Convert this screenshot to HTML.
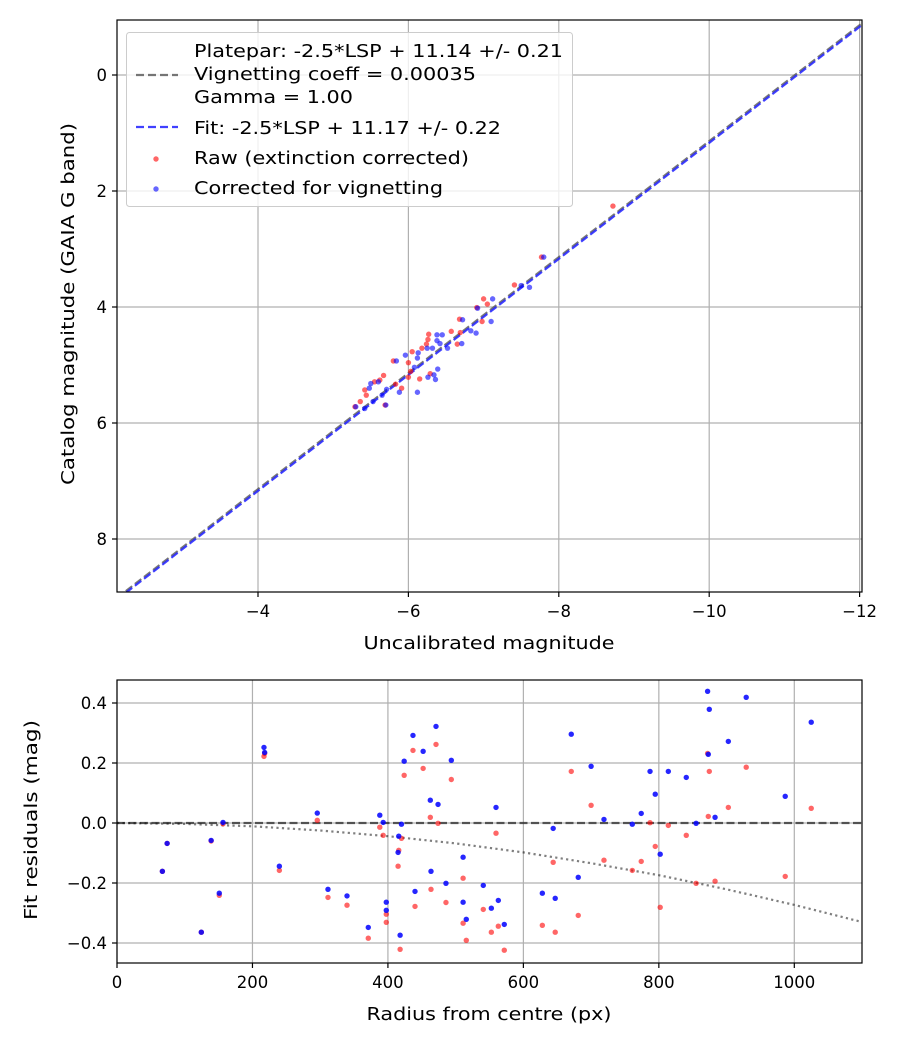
<!DOCTYPE html>
<html><head><meta charset="utf-8">
<style>
html,body{margin:0;padding:0;background:#fff;}
svg{display:block;font-family:"DejaVu Sans","Liberation Sans",sans-serif;}
</style></head>
<body>
<svg id="fig" width="900" height="1050" viewBox="0 0 900 1050" xmlns="http://www.w3.org/2000/svg">
<rect width="900" height="1050" fill="#fff"/>
<g id="top"></g>
<g id="bot"></g>
</svg>
<script>
// ---- Top chart data ----
const rawX = [-7.41,-7.00,-7.05,-6.91,-6.98,-6.68,-6.27,-6.26,-6.24,-6.57,-6.65,-6.69,-6.18,-6.05,-5.80,-6.00,-6.03,-6.29,-6.15,-5.67,-5.62,-5.55,-5.42,-5.44,-5.36,-5.29,-5.69,-5.83,-5.91,-6.00,-8.72,-7.77];
const rawY = [3.62,3.86,3.95,4.01,4.25,4.21,4.47,4.56,4.64,4.42,4.64,4.44,4.71,4.77,4.93,4.96,5.11,5.15,5.24,5.18,5.26,5.29,5.43,5.52,5.63,5.72,5.69,5.33,5.40,5.21,2.26,3.14];
const corX = [-7.50,-7.61,-7.12,-6.92,-7.10,-6.72,-6.83,-6.90,-6.38,-6.45,-6.38,-6.42,-6.71,-6.52,-6.32,-6.25,-6.13,-6.12,-5.96,-5.84,-6.08,-6.39,-6.34,-6.26,-6.36,-6.12,-5.88,-5.71,-5.60,-5.50,-5.48,-5.65,-5.53,-5.42,-5.30,-5.70,-7.80];
const corY = [3.63,3.66,3.86,4.02,4.25,4.22,4.41,4.45,4.48,4.48,4.58,4.63,4.63,4.71,4.71,4.71,4.79,4.88,4.83,4.93,5.04,5.07,5.17,5.21,5.25,5.47,5.47,5.42,5.29,5.32,5.40,5.52,5.63,5.75,5.72,5.69,3.14];
const topXTicks = [-4,-6,-8,-10,-12];
const topYTicks = [0,2,4,6,8];
const plateparOffset = [11.14];
const fitOffset = [11.17];

// ---- Bottom chart data ----
const radius = [67,74,124.5,139,151,156.5,217,218,239.7,295.7,311.5,339.6,371,388,393,397.6,397.6,415,416,418,420,424,437,440,452,462.6,463.6,471,474,485.7,493.6,511,511,515.7,540.8,552.7,559.6,563,571.8,628,644,647,670.7,681,700,719,760.8,774,787,794.7,802,814,840.5,855,872,874.5,873,883,902.6,929,986.6,1025];
const residRaw = [-0.161,-0.068,-0.364,-0.06,-0.241,-0.003,0.222,0.232,-0.158,0.009,-0.248,-0.274,-0.384,-0.014,-0.041,-0.304,-0.331,-0.144,-0.091,-0.421,-0.051,0.159,0.242,-0.278,0.182,0.019,-0.221,0.262,-0.001,-0.265,0.145,-0.184,-0.334,-0.391,-0.288,-0.364,-0.034,-0.344,-0.424,-0.341,-0.131,-0.364,0.172,-0.308,0.059,-0.124,-0.158,-0.128,0.001,-0.078,-0.281,-0.008,-0.041,-0.201,0.232,0.172,0.022,-0.194,0.052,0.186,-0.178,0.049];
const residCor = [-0.161,-0.068,-0.364,-0.058,-0.234,0.002,0.252,0.235,-0.144,0.033,-0.221,-0.243,-0.348,0.026,0.002,-0.264,-0.291,-0.098,-0.044,-0.374,-0.004,0.206,0.292,-0.228,0.239,0.076,-0.161,0.322,0.062,-0.201,0.209,-0.114,-0.264,-0.321,-0.208,-0.284,0.052,-0.258,-0.338,-0.234,-0.018,-0.251,0.296,-0.181,0.189,0.012,-0.004,0.032,0.172,0.096,-0.104,0.172,0.152,-0.001,0.439,0.379,0.229,0.019,0.272,0.419,0.089,0.336];
const botXTicks = [0,200,400,600,800,1000];
const botYTicks = [0.4,0.2,0.0,-0.2,-0.4];
const vignetteCurveR = [0,100,200,300,400,500,600,700,800,900,1000,1100];
const vignetteCurveY = [0,-0.003,-0.011,-0.025,-0.044,-0.068,-0.098,-0.134,-0.174,-0.221,-0.273,-0.33];

const NS = "http://www.w3.org/2000/svg";
function mk(parent, tag, attrs, text){
  const e = document.createElementNS(NS, tag);
  for (const k in attrs) e.setAttribute(k, attrs[k]);
  if (text !== undefined) e.textContent = text;
  parent.appendChild(e);
  return e;
}

// ===== TOP =====
const T = document.getElementById('top');
const tL=117,tR=862,tT=20,tB=592;
const tx = v => 258 + (-4 - v) * 75.2;
const ty = v => 75 + v * 58;
mk(T,'defs',{}).innerHTML = '<clipPath id="ctop"><rect x="117" y="20" width="745" height="572"/></clipPath><clipPath id="cbot"><rect x="117" y="680" width="745" height="283"/></clipPath>';
topXTicks.forEach(v=>{
  const g = mk(T,'line',{x1:tx(v),x2:tx(v),y1:tT,y2:tB,stroke:'#b0b0b0','stroke-width':1.2});
  
  
  mk(T,'line',{x1:tx(v),x2:tx(v),y1:tB,y2:tB+5,stroke:'#000','stroke-width':1.2});
  const t = mk(T,'text',{x:tx(v),y:tB+25,'font-size':16.5,'text-anchor':'middle'}, '\u2212'+Math.abs(v));
  
  
});
topYTicks.forEach(v=>{
  const g = mk(T,'line',{x1:tL,x2:tR,y1:ty(v),y2:ty(v),stroke:'#b0b0b0','stroke-width':1.2});
  
  
  mk(T,'line',{x1:tL-5,x2:tL,y1:ty(v),y2:ty(v),stroke:'#000','stroke-width':1.2});
  const t = mk(T,'text',{x:tL-10,y:ty(v)+6,'font-size':16.5,'text-anchor':'end'}, String(v));
  
  
});
const ctop = mk(T,'g',{'clip-path':'url(#ctop)'});
[[plateparOffset[0],'#555',0.8,'platepar-line'],[fitOffset[0],'#2020ff',0.85,'fit-line']].forEach(([o,c,op,n])=>{
  const x1=-2.0,x2=-12.2;
  const l = mk(ctop,'line',{x1:tx(x1),y1:ty(x1+o),x2:tx(x2),y2:ty(x2+o),stroke:c,'stroke-opacity':op,'stroke-width':2.2,'stroke-dasharray':'8,3.5'});
  
  
});
rawX.forEach((v,i)=>{
  const c = mk(ctop,'circle',{cx:tx(v),cy:ty(rawY[i]),r:2.7,fill:'#ff0000','fill-opacity':0.6});
  
  
});
corX.forEach((v,i)=>{
  const c = mk(ctop,'circle',{cx:tx(v),cy:ty(corY[i]),r:2.7,fill:'#0000ff','fill-opacity':0.6});
  
  
});
mk(T,'rect',{x:tL,y:tT,width:tR-tL,height:tB-tT,fill:'none',stroke:'#000','stroke-width':1.2});
let xt = mk(T,'text',{x:489,y:649,'font-size':18,'text-anchor':'middle',textLength:251,lengthAdjust:'spacingAndGlyphs'},'Uncalibrated magnitude');


let yt = mk(T,'text',{x:0,y:0,'font-size':18,'text-anchor':'middle',textLength:362,lengthAdjust:'spacingAndGlyphs',transform:'translate(74,304) rotate(-90)'},'Catalog magnitude (GAIA G band)');


// legend
const lg = mk(T,'g',{});


mk(lg,'rect',{x:126.5,y:32.5,width:446,height:174,rx:3,fill:'#fff','fill-opacity':0.8,stroke:'#ccc','stroke-width':1});
mk(lg,'line',{x1:136,x2:178,y1:75,y2:75,stroke:'#555','stroke-opacity':0.8,'stroke-width':2.2,'stroke-dasharray':'8,4'});
mk(lg,'line',{x1:136,x2:178,y1:127,y2:127,stroke:'#2020ff','stroke-opacity':0.85,'stroke-width':2.2,'stroke-dasharray':'8,4'});
mk(lg,'circle',{cx:156,cy:159,r:2.7,fill:'#ff0000','fill-opacity':0.6});
mk(lg,'circle',{cx:156,cy:189,r:2.7,fill:'#0000ff','fill-opacity':0.6});
[['Platepar: -2.5*LSP + 11.14 +/- 0.21',57,369],['Vignetting coeff = 0.00035',80,282],['Gamma = 1.00',103,159],['Fit: -2.5*LSP + 11.17 +/- 0.22',134,307],['Raw (extinction corrected)',164,275],['Corrected for vignetting',194,249]].forEach(([s,y,w])=>{
  const t = mk(lg,'text',{x:194,y:y,'font-size':17.5,textLength:w,lengthAdjust:'spacingAndGlyphs'},s);
  
  
});

// ===== BOTTOM =====
const B = document.getElementById('bot');
const bL=117,bR=862,bT=680,bB=963;
const bx = v => 117 + v * 0.6773;
const by = v => 823 - v * 300;
botXTicks.forEach(v=>{
  const g = mk(B,'line',{x1:bx(v),x2:bx(v),y1:bT,y2:bB,stroke:'#b0b0b0','stroke-width':1.2});
  
  
  mk(B,'line',{x1:bx(v),x2:bx(v),y1:bB,y2:bB+5,stroke:'#000','stroke-width':1.2});
  const t = mk(B,'text',{x:bx(v),y:bB+25,'font-size':16.5,'text-anchor':'middle'}, String(v));
  
  
});
botYTicks.forEach(v=>{
  const g = mk(B,'line',{x1:bL,x2:bR,y1:by(v),y2:by(v),stroke:'#b0b0b0','stroke-width':1.2});
  
  
  mk(B,'line',{x1:bL-5,x2:bL,y1:by(v),y2:by(v),stroke:'#000','stroke-width':1.2});
  const s = (v<0?'\u2212':'') + Math.abs(v).toFixed(1);
  const t = mk(B,'text',{x:bL-10,y:by(v)+6,'font-size':16.5,'text-anchor':'end'}, s);
  
  
});
const cbot = mk(B,'g',{'clip-path':'url(#cbot)'});
let zl = mk(cbot,'line',{x1:bx(0),x2:bx(1100),y1:by(0),y2:by(0),stroke:'#000','stroke-opacity':0.6,'stroke-width':2.2,'stroke-dasharray':'8,3.5'});


let vp = mk(cbot,'polyline',{points:vignetteCurveR.map((r,i)=>bx(r)+','+by(vignetteCurveY[i])).join(' '),fill:'none',stroke:'#000','stroke-opacity':0.5,'stroke-width':2.2,'stroke-dasharray':'2.2,3.3'});


radius.forEach((r,i)=>{
  const c = mk(cbot,'circle',{cx:bx(r),cy:by(residRaw[i]),r:2.7,fill:'#ff0000','fill-opacity':0.6});
  
  
});
radius.forEach((r,i)=>{
  const c = mk(cbot,'circle',{cx:bx(r),cy:by(residCor[i]),r:2.7,fill:'#0000ff','fill-opacity':0.85});
  
  
});
mk(B,'rect',{x:bL,y:bT,width:bR-bL,height:bB-bT,fill:'none',stroke:'#000','stroke-width':1.2});
xt = mk(B,'text',{x:489,y:1020,'font-size':18,'text-anchor':'middle',textLength:245,lengthAdjust:'spacingAndGlyphs'},'Radius from centre (px)');


yt = mk(B,'text',{x:0,y:0,'font-size':18,'text-anchor':'middle',textLength:200,lengthAdjust:'spacingAndGlyphs',transform:'translate(37,820) rotate(-90)'},'Fit residuals (mag)');


</script>
</body></html>
